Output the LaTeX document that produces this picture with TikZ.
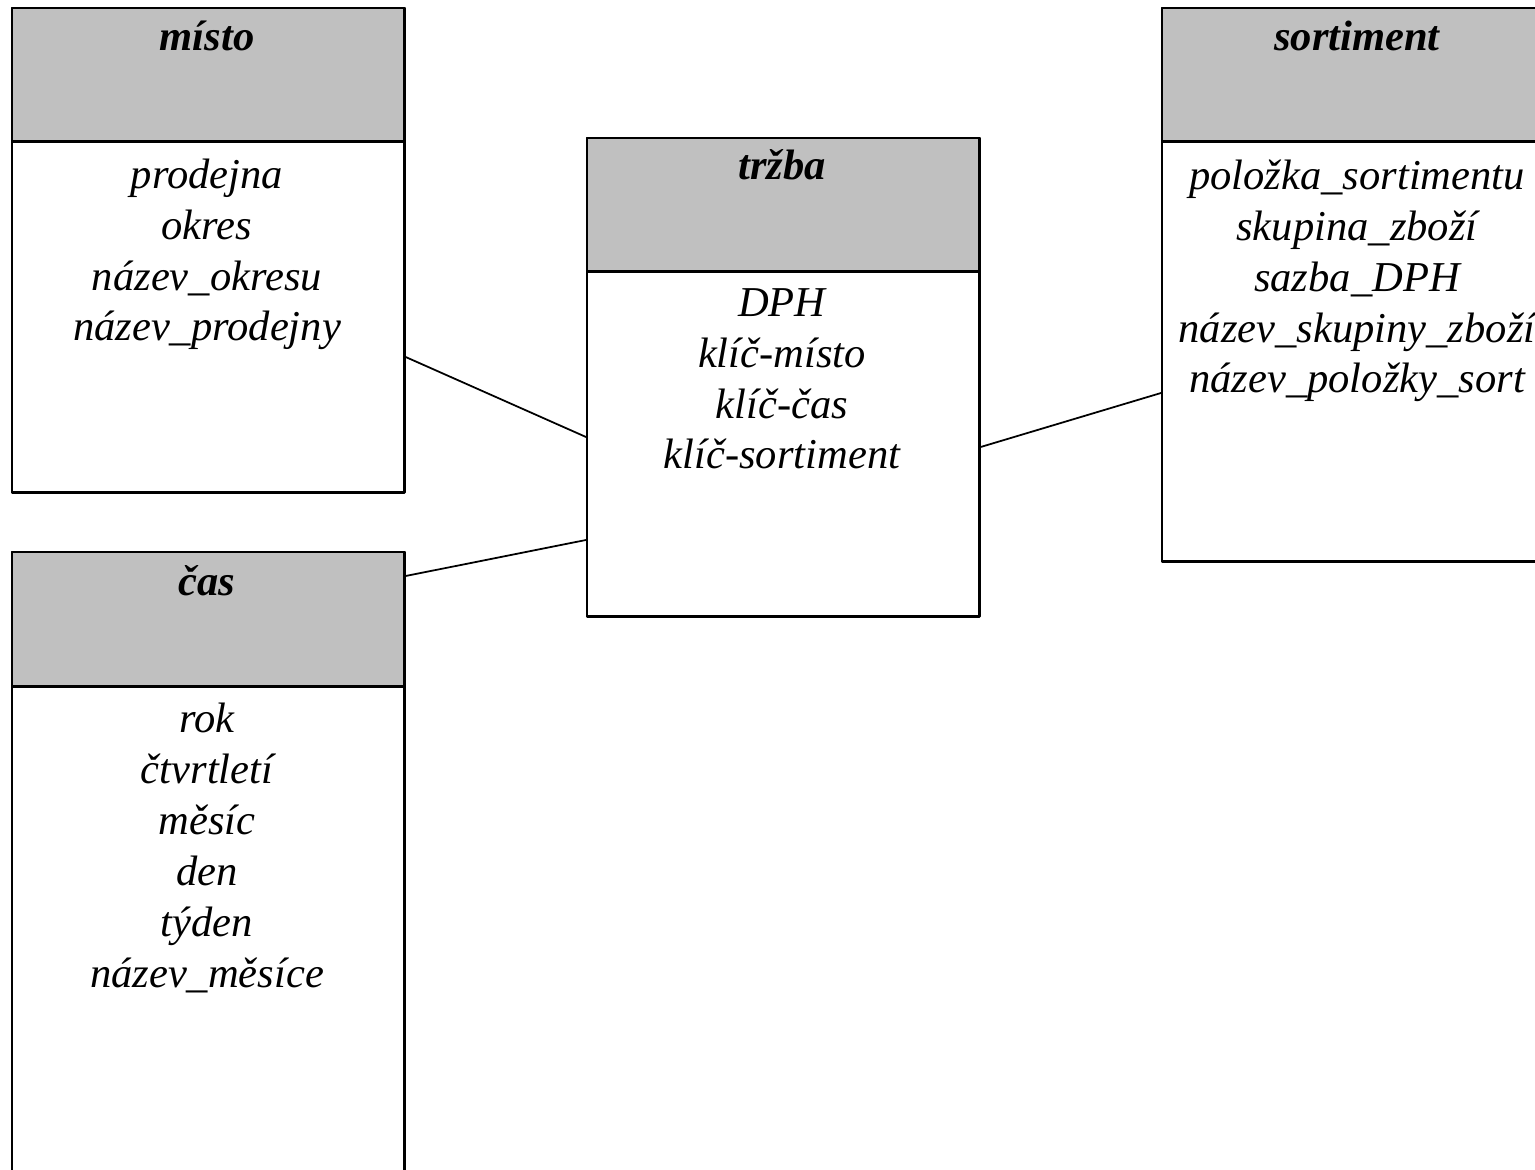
\documentclass[tikz,border=0pt]{standalone}
\usepackage{fontspec}
\setmainfont{Liberation Serif}
\usetikzlibrary{calc}
\definecolor{headgray}{RGB}{192,192,192}

\begin{document}
\begin{tikzpicture}[x=0.01cm, y=-0.01cm, line join=round, line cap=round,
    tabbox/.style={draw, line width=0.7pt, fill=white, inner sep=0pt, anchor=north west, minimum width=3.92cm},
    tabhead/.style={draw, line width=0.7pt, fill=headgray, inner sep=0pt, anchor=north west, minimum width=3.92cm, minimum height=1.33cm},
    tabtitle/.style={anchor=base, inner sep=0pt, font=\fontsize{12.1}{14.5}\selectfont\bfseries\itshape},
    tabattr/.style={anchor=base, inner sep=0pt, align=center, font=\fontsize{12.1}{14.5}\selectfont\itshape},
    conn/.style={draw, line width=0.5pt}]

    % Frame of the picture
    \useasboundingbox (0,0) rectangle (1535,1170);
    \clip (0,0) rectangle (1535,1170);

    % Dimension table: misto
    \node[tabbox, minimum height=4.84cm] (misto) at (11,7) {};
    \node[tabhead] (misto-h) at (11,7) {};
    \node[tabtitle] (misto-t) at (207,51) {místo};
    % base anchor = baseline of the last line
    \node[tabattr] (misto-a) at (207,341) {prodejna\\okres\\název\_okresu\\název\_prodejny};

    % Dimension table: cas (runs below the frame)
    \node[tabbox, minimum height=6.40cm] (cas) at (11,551) {};
    \node[tabhead, minimum height=1.34cm] (cas-h) at (11,551) {};
    \node[tabtitle] (cas-t) at (207,596) {čas};
    \node[tabattr] (cas-a) at (207,987) {rok\\čtvrtletí\\měsíc\\den\\týden\\název\_měsíce};

    % Fact table: trzba
    \node[tabbox, minimum height=4.78cm] (trzba) at (586,137) {};
    \node[tabhead] (trzba-h) at (586,137) {};
    \node[tabtitle] (trzba-t) at (782,180) {tržba};
    \node[tabattr] (trzba-a) at (782,469) {DPH\\klíč-místo\\klíč-čas\\klíč-sortiment};

    % Dimension table: sortiment (cut at the right edge)
    \node[tabbox, minimum height=5.53cm] (sortiment) at (1161,7) {};
    \node[tabhead] (sortiment-h) at (1161,7) {};
    \node[tabtitle] (sortiment-t) at (1357,51) {sortiment};
    \node[tabattr] (sortiment-a) at (1357,393) {položka\_sortimentu\\skupina\_zboží\\sazba\_DPH\\název\_skupiny\_zboží\\název\_položky\_sort};

    % Links from the fact table to the dimensions
    \draw[conn] (misto.east |- 0,357) -- (trzba.west |- 0,437);
    \draw[conn] (cas.east |- 0,576) -- (trzba.west |- 0,540);
    \draw[conn] (trzba.east |- 0,447) -- (sortiment.west |- 0,393);

\end{tikzpicture}
\end{document}
